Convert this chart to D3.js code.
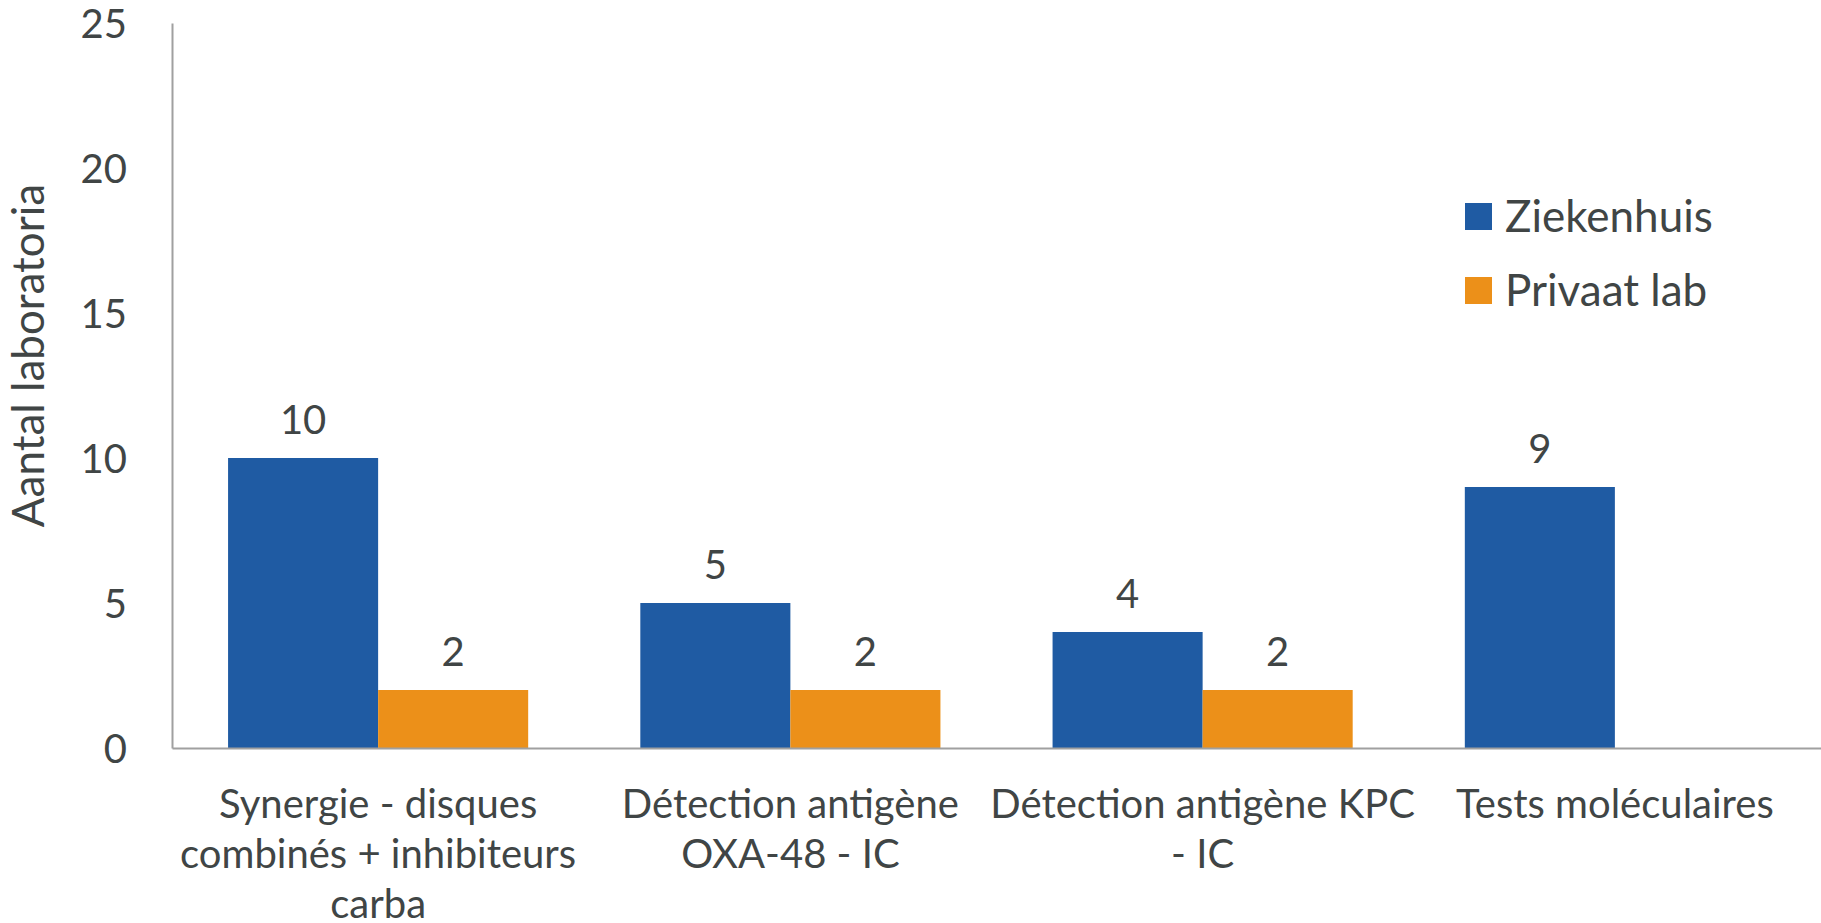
<!DOCTYPE html>
<html>
<head>
<meta charset="utf-8">
<script src="https://cdn.jsdelivr.net/npm/d3@7"></script>
<style>
  html, body { margin: 0; padding: 0; background: #ffffff; }
  svg { display: block; }
  text { font-family: Lato, "Open Sans", sans-serif; fill: #404545; }
</style>
</head>
<body>
<svg id="chart" width="1821" height="923"></svg>
<script>
// ---- data ----
const categories = [
  "Synergie - disques combinés + inhibiteurs carba",
  "Détection antigène OXA-48 - IC",
  "Détection antigène KPC - IC",
  "Tests moléculaires"
];
const categoryLines = [
  ["Synergie - disques", "combinés + inhibiteurs", "carba"],
  ["Détection antigène", "OXA-48 - IC"],
  ["Détection antigène KPC", "- IC"],
  ["Tests moléculaires"]
];
const seriesNames = ["Ziekenhuis", "Privaat lab"];
const ziekenhuis = [10, 5, 4, 9];
const privaatLab = [2, 2, 2, null];
const yTicks = [0, 5, 10, 15, 20, 25];
const yTitle = "Aantal laboratoria";

// ---- layout ----
(function () {
const colors = ["#1F5BA3", "#EC9019"];
const svg = d3.select("#chart");
const mLeft = 172, mRight = 1821, mTop = 23, mBottom = 748;

const x0 = d3.scaleBand().domain(categories).range([mLeft, mRight]).paddingInner(0.272).paddingOuter(0.136);
const x1 = d3.scaleBand().domain(seriesNames).range([0, x0.bandwidth()]).padding(0);
const y = d3.scaleLinear().domain([0, 25]).range([mBottom, mTop]);

const seriesValues = [ziekenhuis, privaatLab];

// bars
seriesNames.forEach((s, si) => {
  const vals = seriesValues[si];
  const rows = categories.map((c, i) => ({ c, v: vals[i] })).filter(d => d.v != null);
  const g = svg.append("g");
  g.selectAll("rect")
    .data(rows)
    .join("rect")
    .attr("x", d => x0(d.c) + x1(s))
    .attr("y", d => y(d.v))
    .attr("width", x1.bandwidth())
    .attr("height", d => y(0) - y(d.v))
    .attr("fill", colors[si]);
  g.selectAll("text")
    .data(rows)
    .join("text")
    .attr("x", d => x0(d.c) + x1(s) + x1.bandwidth() / 2)
    .attr("y", d => y(d.v) - 24)
    .attr("text-anchor", "middle")
    .style("font-size", "40px")
    .text(d => d.v);
});

// y axis
const yAxis = d3.axisLeft(y).tickValues(yTicks).tickSize(0).tickPadding(0);
const yg = svg.append("g").attr("transform", `translate(${mLeft},0)`).call(yAxis);
yg.select(".domain").attr("stroke", "#A0A0A0").attr("stroke-width", 2);
yg.selectAll(".tick text")
  .attr("x", -45)
  .attr("dy", "0.36em")
  .style("font-size", "40px")
  .style("font-family", "Lato, 'Open Sans', sans-serif")
  .attr("fill", "#404545");

// x axis
const xAxis = d3.axisBottom(x0).tickSize(0).tickFormat(() => "");
const xg = svg.append("g").attr("transform", `translate(0,${mBottom})`).call(xAxis);
xg.select(".domain").attr("stroke", "#A0A0A0").attr("stroke-width", 2);
xg.selectAll(".tick").each(function (d, i) {
  const t = d3.select(this).select("text")
    .attr("y", 0).attr("dy", null)
    .style("font-size", "40px")
    .style("font-family", "Lato, 'Open Sans', sans-serif")
    .attr("fill", "#404545")
    .text(null);
  categoryLines[i].forEach((line, li) => {
    t.append("tspan").attr("x", 0).attr("y", 70 + li * 50).text(line);
  });
});

// y title
svg.append("text")
  .attr("transform", `translate(44,${(mTop + mBottom) / 2 - 30}) rotate(-90)`)
  .attr("text-anchor", "middle")
  .style("font-size", "44px")
  .text(yTitle);

// legend
const legend = svg.append("g").attr("transform", "translate(1465,203)");
seriesNames.forEach((s, i) => {
  const g = legend.append("g").attr("transform", `translate(0,${i * 74})`);
  g.append("rect").attr("width", 27).attr("height", 27).attr("fill", colors[i]);
  g.append("text").attr("x", 40).attr("y", 29).style("font-size", "44px").text(s);
});
})();
</script>
</body>
</html>
